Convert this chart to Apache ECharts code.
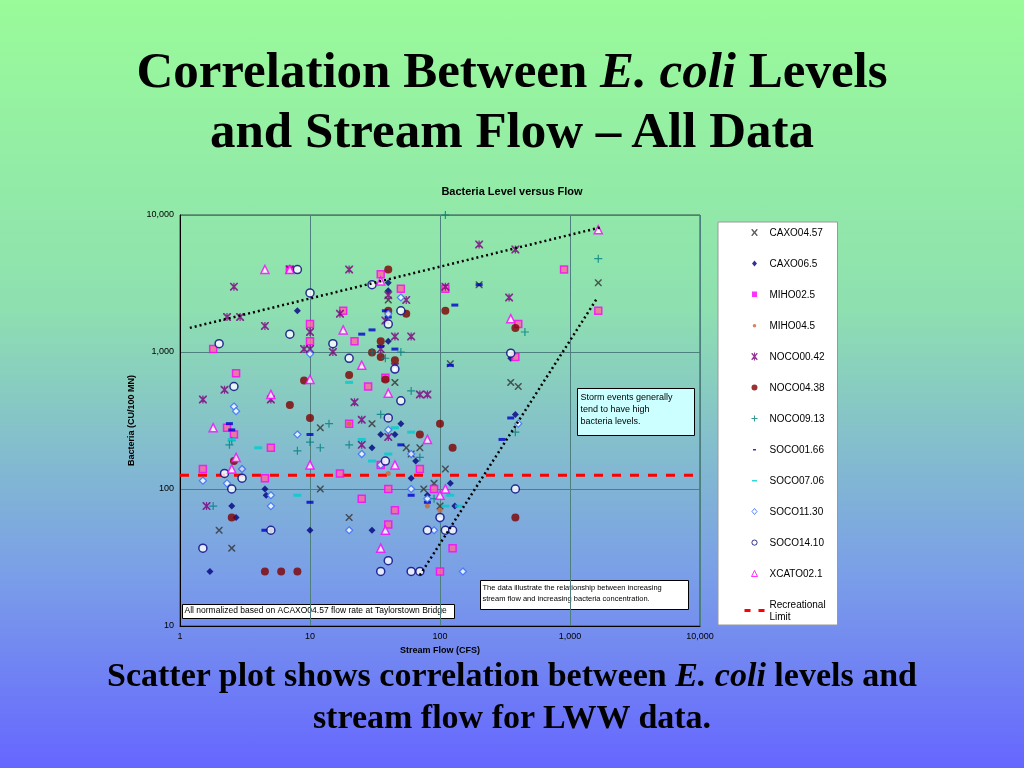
<!DOCTYPE html>
<html><head><meta charset="utf-8">
<script src="https://cdn.jsdelivr.net/npm/echarts@6/dist/echarts.min.js"></script>
<style>
body{margin:0;width:1024px;height:768px;overflow:hidden;background:linear-gradient(180deg,#99fb99 0%,#8ee0b0 40%,#7a9ee8 75%,#6666ff 100%);font-family:"Liberation Serif",serif;}
.t{position:absolute;left:0;width:1024px;text-align:center;font-weight:bold;color:#000;}
#chart{position:absolute;left:0;top:0;width:1024px;height:768px;}
</style></head><body>
<div class="t" style="top:40px;font-size:51px;line-height:60px">Correlation Between <i>E. coli</i> Levels<br>and Stream Flow – All Data</div>
<div id="chart"></div>
<div class="t" style="top:654px;font-size:34px;line-height:42px">Scatter plot shows correlation between <i>E. coli</i> levels and<br>stream flow for LWW data.</div>
<script>
const xTicks=['1','10','100','1,000','10,000'];
const yTicks=['10','100','1,000','10,000'];
const recLimit=126;
const upperTrend=[[1.19,1500],[1700,8100]];
const lowerTrend=[[70,23.5],[1630,2500]];
const CAXO0457=[[2.5,37],[2,50],[12,100],[20,62],[40,2400],[45,600],[55,200],[60,180],[75,100],[90,110],[110,140],[120,820],[200,3100],[350,600],[400,560],[1650,3200],[100,75],[12,280],[70,200],[30,300]];
const CAXO065=[[1.7,25],[2.5,75],[2.7,62],[3,140],[4.5,100],[4.6,90],[5,50],[8,2000],[10,50],[30,50],[40,1200],[40,2800],[40,3200],[35,250],[30,200],[45,250],[50,300],[60,120],[80,90],[120,110],[130,75],[350,900],[380,350],[40,330],[65,160]];
const MIHO025=[[1.5,140],[1.8,1050],[2.3,280],[2.6,250],[2.7,700],[4.5,120],[5,200],[7,4000],[10,1600],[10,1200],[17,130],[18,2000],[20,300],[22,1200],[25,85],[28,560],[35,3700],[35,150],[40,100],[40,55],[45,70],[50,2900],[70,140],[90,100],[100,25],[110,2900],[125,37],[400,1600],[380,920],[1650,2000],[900,4000],[38,650]];
const MIHO045=[[40,130],[80,75],[100,70],[20,300]];
const NOCO0042=[[1.5,450],[2.2,530],[2.3,1800],[2.6,3000],[2.9,1800],[4.5,1550],[5,450],[7,4000],[9,1050],[10,1050],[10,1400],[15,1000],[17,1900],[20,4000],[22,430],[25,320],[25,210],[35,1050],[38,1700],[40,2600],[45,1300],[45,780],[55,2400],[60,1300],[70,490],[80,490],[110,3000],[200,6100],[340,2500],[380,5600],[40,240],[1.6,75]];
const NOCO0438=[[2.5,62],[2.6,160],[4.5,25],[6,25],[7,410],[8,25],[9,620],[10,330],[20,680],[30,990],[35,1200],[38,630],[40,4000],[45,870],[55,1900],[70,250],[100,300],[110,2000],[125,200],[380,62],[380,1500],[40,2000],[35,920]];
const NOCO0913=[[1.8,75],[2.4,210],[2.5,225],[8,190],[10,220],[12,200],[14,300],[20,210],[35,350],[38,900],[50,1000],[60,520],[70,170],[90,85],[110,10000],[380,260],[450,1400],[1650,4800],[30,1000]];
const SOCO0166=[[2.4,300],[2.5,270],[4.5,50],[10,250],[10,80],[25,1350],[30,1450],[35,1100],[38,2000],[40,1800],[45,1050],[50,210],[60,90],[80,80],[120,800],[130,2200],[200,3100],[300,230],[350,330]];
const SOCO0706=[[2.5,230],[4,200],[8,90],[20,600],[25,230],[30,160],[40,180],[45,280],[60,260],[110,75],[120,90],[140,75]];
const SOCO1130=[[1.5,115],[2.3,110],[2.6,400],[2.7,370],[3,140],[5,90],[5,75],[8,250],[10,970],[20,50],[25,180],[40,270],[40,1900],[45,750],[50,2500],[60,100],[80,85],[90,50],[100,60],[150,25],[400,300],[35,150],[60,180]];
const SOCO1410=[[1.5,37],[2,1150],[2.2,130],[2.5,100],[2.6,560],[3,120],[5,50],[7,1350],[8,4000],[10,2700],[15,1150],[20,900],[30,3100],[35,25],[40,330],[40,1600],[45,750],[50,2000],[50,440],[60,25],[70,25],[80,50],[100,62],[110,50],[125,50],[350,980],[380,100],[40,30],[38,160]];
const XCATO021=[[1.8,280],[2.5,140],[2.7,170],[4.5,4000],[5,490],[7,4000],[10,630],[10,150],[18,1450],[25,800],[35,3300],[38,50],[40,500],[45,150],[80,230],[100,90],[110,100],[350,1750],[1650,7800],[35,37]];

const X='path://M0,0L3,0L10,7L17,0L20,0L20,3L13,10L20,17L20,20L17,20L10,13L3,20L0,20L0,17L7,10L0,3Z';
const P='path://M8.5,0H11.5V8.5H20V11.5H11.5V20H8.5V11.5H0V8.5H8.5Z';
const A='path://M0,0L3,0L10,7L17,0L20,0L20,3L13,10L20,17L20,20L17,20L10,13L3,20L0,20L0,17L7,10L0,3Z M8.5,0H11.5V20H8.5Z';
const D='path://M0,0H20V8H0Z';
const ANCH=' M0,0H0.01V0.01Z M20,10H19.99V9.99Z';
const LI={
 X:'M7,1L8,1L10,3.5L12,1L13,1L13,2L11,4.5L13,7L13,8L12,8L10,5.5L8,8L7,8L7,7L9,4.5L7,2Z',
 dia:'M10,1.5L12.5,4.5L10,7.5L7.5,4.5Z',
 sq:'M7.5,1.5H12.5V7H7.5Z',
 dot:'M10,3A1.8,1.8 0 1 1 9.99,3Z',
 ast:'M7,1L8,1L10,3.5L12,1L13,1L13,2L11,4.5L13,7L13,8L12,8L10,5.5L8,8L7,8L7,7L9,4.5L7,2Z M9.5,0.5H10.5V8.5H9.5Z',
 circ:'M10,1.5A3,3 0 1 1 9.99,1.5Z',
 plus:'M9.5,1.5H10.5V4H13V5H10.5V7.5H9.5V5H7V4H9.5Z',
 dash:'M8.5,4H11.5V5.5H8.5Z',
 dash2:'M7.5,4H12.5V5.5H7.5Z',
 odia:'M10,1.5L12.5,4.5L10,7.5L7.5,4.5Z',
 ocirc:'M10,2A2.6,2.6 0 1 1 9.99,2Z',
 tri:'M10,1.5L13,7.5H7Z',
 rec:'M0,3H6V6H0Z M14,3H20V6H14Z'
};
for(const k in LI) LI[k]='path://'+LI[k]+ANCH;
function sc(name,data,symbol,size,color,extra){
  return Object.assign({name,type:'scatter',data,symbol,symbolSize:size,itemStyle:{color},z:3},extra||{});
}
const series=[
 sc('CAXO04.57',CAXO0457,X,7,'#333333'),
 sc('CAXO06.5',CAXO065,'diamond',7,'#000080'),
 sc('MIHO02.5',MIHO025,'rect',7,'#ff66cc',{itemStyle:{color:'#ff6699',borderColor:'#ff00ff',borderWidth:1.5}}),
 sc('MIHO04.5',MIHO045,'circle',5,'#cc6633'),
 sc('NOCO00.42',NOCO0042,A,8,'#800080'),
 sc('NOCO04.38',NOCO0438,'circle',8,'#800000'),
 sc('NOCO09.13',NOCO0913,P,8,'#008080'),
 sc('SOCO01.66',SOCO0166,D,[7,3],'#0000cc'),
 sc('SOCO07.06',SOCO0706,D,[8,3],'#00cccc'),
 sc('SOCO11.30',SOCO1130,'diamond',7,'#3366ff',{itemStyle:{color:'#ffffff',borderColor:'#3366ff',borderWidth:1.2}}),
 sc('SOCO14.10',SOCO1410,'circle',8,'#000080',{itemStyle:{color:'#ffffff',borderColor:'#000080',borderWidth:1.5}}),
 sc('XCATO02.1',XCATO021,'triangle',8,'#ff00ff',{itemStyle:{color:'#ffffff',borderColor:'#ff00ff',borderWidth:1.5}}),
 {name:'Recreational\nLimit',type:'line',data:[[1,recLimit],[10000,recLimit]],symbol:'none',lineStyle:{color:'#ff0000',width:3,type:[9,9]},itemStyle:{color:'#ff0000'},z:2},
 {name:'up',type:'line',data:upperTrend,symbol:'none',lineStyle:{color:'#000',width:2.5,type:[2,3]},z:4},
 {name:'low',type:'line',data:lowerTrend,symbol:'none',lineStyle:{color:'#000',width:2.5,type:[2,3]},z:4}
];
const icons=[LI.X,LI.dia,LI.sq,LI.dot,LI.ast,LI.circ,LI.plus,LI.dash,LI.dash2,LI.odia,LI.ocirc,LI.tri];
const legendData=series.slice(0,12).map((s,i)=>{
  const st=Object.assign({},s.itemStyle);
  if(st.borderWidth) st.borderWidth=1;
  if(i===2){st.color='#ff00ff';st.borderWidth=0;}
  return {name:s.name,icon:icons[i],itemStyle:st};
});
legendData.push({name:'Recreational\nLimit',icon:LI.rec,itemStyle:{color:'#ff0000'}});
const chart=echarts.init(document.getElementById('chart'));
chart.setOption({
 animation:false,backgroundColor:'transparent',
 grid:{left:180,right:324,top:215,bottom:142,show:true,borderColor:'#2f4f4f',borderWidth:1},
 xAxis:{type:'log',logBase:10,min:1,max:10000,name:'Stream Flow (CFS)',nameLocation:'middle',nameGap:18,
  nameTextStyle:{fontFamily:'Liberation Sans',fontWeight:'bold',fontSize:9,color:'#000'},
  axisLine:{lineStyle:{color:'#000'}},axisTick:{show:false},minorTick:{show:false},
  axisLabel:{fontFamily:'Liberation Sans',fontSize:9,color:'#000',margin:6,formatter:v=>xTicks[Math.round(Math.log10(v))]},
  splitLine:{show:true,lineStyle:{color:'#4d7f7f',width:1}}},
 yAxis:{type:'log',logBase:10,min:10,max:10000,name:'Bacteria (CU/100 MN)',nameLocation:'middle',nameGap:38,
  nameTextStyle:{fontFamily:'Liberation Sans',fontWeight:'bold',fontSize:9,color:'#000'},
  axisLine:{show:true,lineStyle:{color:'#000'}},axisTick:{show:false},
  axisLabel:{fontFamily:'Liberation Sans',fontSize:9,color:'#000',margin:6,formatter:v=>yTicks[Math.round(Math.log10(v))-1]},
  splitLine:{show:true,lineStyle:{color:'#4d7f7f',width:1}}},
 legend:{orient:'vertical',left:718,top:222,height:500,padding:[5,4,2,26],itemGap:19,
  backgroundColor:'#ffffff',borderColor:'#999',borderWidth:1,itemWidth:20,itemHeight:10,
  textStyle:{fontFamily:'Liberation Sans',fontSize:10,color:'#000',lineHeight:12,width:64},
  data:legendData},
 title:{text:'Bacteria Level versus Flow',left:'center',top:181,textStyle:{fontFamily:'Liberation Sans',fontSize:11,fontWeight:'bold',color:'#000'}},
 graphic:[
  {type:'group',left:577,top:388,children:[
   {type:'rect',shape:{width:117,height:47},style:{fill:'#ccffff',stroke:'#000',lineWidth:1}},
   {type:'text',left:3,top:3,style:{text:'Storm events generally\ntend to have high\nbacteria levels.',font:'9px Liberation Sans',fill:'#000',lineHeight:12}}]},
  {type:'group',left:480,top:580,children:[
   {type:'rect',shape:{width:208,height:29},style:{fill:'#ffffff',stroke:'#000',lineWidth:1}},
   {type:'text',left:2,top:2,style:{text:'The data illustrate the relationship between increasing\nstream flow and increasing bacteria concentration.',font:'7.5px Liberation Sans',fill:'#000',lineHeight:11}}]},
  {type:'group',left:182,top:604,children:[
   {type:'rect',shape:{width:272,height:14},style:{fill:'#ffffff',stroke:'#000',lineWidth:1}},
   {type:'text',left:2,top:2,style:{text:'All normalized based on ACAXO04.57 flow rate at Taylorstown Bridge',font:'8.5px Liberation Sans',fill:'#000'}}]}
 ],
 series
});
</script></body></html>
